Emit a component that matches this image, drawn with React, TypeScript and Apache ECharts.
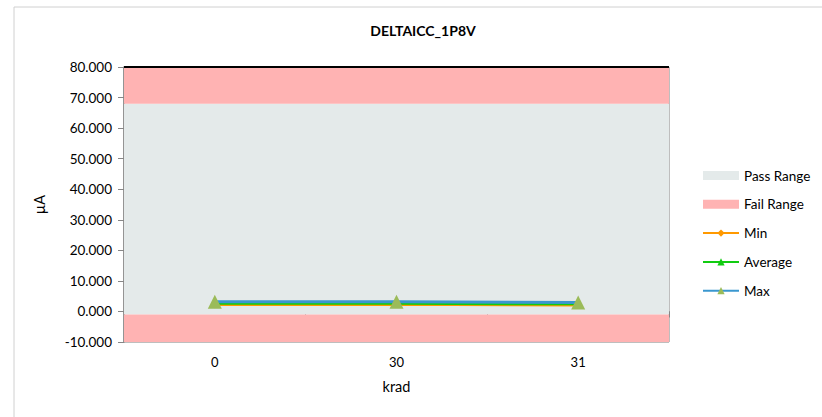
import React, { useEffect, useRef } from "react";
import * as echarts from "echarts";

const categories = ["0", "30", "31"];
const minValues = [2.2, 2.3, 2.0];
const avgValues = [2.6, 2.6, 2.4];
const maxValues = [3.2, 3.2, 2.9];
const yMin = -10;
const yMax = 80;
const yStep = 10;
const passRange = [-1, 68];
const failRanges = [
  [68, 80],
  [-10, -1],
];

const FONT = "Lato";
const passColor = "#E4EAEA";
const failColor = "#FFB3B3";
const minColor = "#FF9900";
const avgColor = "#11CC11";
const maxColor = "#3A97CF";
const markerColor = "#9BBB59";

export default function App() {
  const ref = useRef<HTMLDivElement>(null);
  useEffect(() => {
    if (!ref.current) return;
    const chart = echarts.init(ref.current, undefined, { renderer: "svg" });
    chart.setOption({
      animation: false,
      backgroundColor: "#ffffff",
      textStyle: { fontFamily: FONT },
      graphic: [
        {
          type: "rect",
          shape: { x: 14, y: 7, width: 840, height: 440 },
          style: { fill: "none", stroke: "#D0D0D0", lineWidth: 1 },
          silent: true,
          z: 0,
        },
      ],
      title: {
        text: "DELTAICC_1P8V",
        left: 418,
        textAlign: "center",
        top: 18,
        textStyle: { fontFamily: FONT, fontSize: 14, fontWeight: "bold", color: "#000" },
      },
      grid: {
        left: 124,
        right: 153,
        top: 67,
        bottom: 75,
        show: true,
        borderColor: "#7F7F7F",
        borderWidth: 1,
        backgroundColor: "transparent",
      },
      legend: {
        orient: "vertical",
        left: 697,
        top: 163,
        itemWidth: 36,
        itemHeight: 9,
        itemGap: 13.8,
        textStyle: { fontFamily: FONT, fontSize: 13.5, color: "#000", lineHeight: 15 },
        data: [
          { name: "Pass Range", icon: "rect" },
          { name: "Fail Range", icon: "rect" },
          { name: "Min" },
          { name: "Average" },
          { name: "Max" },
        ],
      },
      xAxis: {
        type: "category",
        data: categories,
        name: "krad",
        nameLocation: "middle",
        nameGap: 37,
        nameTextStyle: { fontFamily: FONT, fontSize: 14.5, color: "#000" },
        axisLine: { lineStyle: { color: "#868686", width: 1.5 } },
        axisTick: { show: true, length: 6, lineStyle: { color: "#868686" } },
        axisLabel: { fontFamily: FONT, fontSize: 13, color: "#000", margin: 13 },
        splitLine: { show: false },
      },
      yAxis: {
        type: "value",
        min: yMin,
        max: yMax,
        interval: yStep,
        name: "µA",
        nameLocation: "middle",
        nameGap: 77,
        nameTextStyle: { fontFamily: FONT, fontSize: 14.5, color: "#000" },
        axisLine: { show: true, lineStyle: { color: "#868686", width: 1.5 } },
        axisTick: { show: true, length: 6, lineStyle: { color: "#868686" } },
        axisLabel: {
          fontFamily: FONT,
          fontSize: 13.5,
          color: "#000",
          margin: 12,
          formatter: (v: number) => v.toFixed(3),
        },
        splitLine: { show: false },
      },
      series: [
        {
          name: "Pass Range",
          type: "line",
          data: [],
          itemStyle: { color: passColor },
          z: 1,
          markArea: {
            silent: true,
            itemStyle: { color: passColor },
            data: [[{ yAxis: passRange[0] }, { yAxis: passRange[1] }]],
          },
        },
        {
          name: "Fail Range",
          type: "line",
          data: [],
          itemStyle: { color: failColor },
          z: 1,
          markArea: {
            silent: true,
            itemStyle: { color: failColor },
            data: failRanges.map((r) => [{ yAxis: r[0] }, { yAxis: r[1] }]),
          },
          markLine: {
            silent: true,
            symbol: "none",
            label: { show: false },
            lineStyle: { color: "#000", width: 2, type: "solid" },
            data: [{ yAxis: yMax }],
          },
        },
        {
          name: "Min",
          type: "line",
          data: minValues,
          z: 3,
          symbol: "diamond",
          symbolSize: 7,
          itemStyle: { color: minColor },
          lineStyle: { color: minColor, width: 2.5 },
        },
        {
          name: "Average",
          type: "line",
          data: avgValues,
          z: 4,
          symbol: "triangle",
          symbolSize: 8,
          itemStyle: { color: avgColor },
          lineStyle: { color: avgColor, width: 2.5 },
        },
        {
          name: "Max",
          type: "line",
          data: maxValues,
          z: 5,
          symbol: "triangle",
          symbolSize: 14,
          itemStyle: { color: markerColor },
          lineStyle: { color: maxColor, width: 3 },
        },
      ],
    });
    return () => chart.dispose();
  }, []);
  return (
    <div
      ref={ref}
      style={{ position: "absolute", left: 0, top: 0, width: 822, height: 417 }}
    />
  );
}
